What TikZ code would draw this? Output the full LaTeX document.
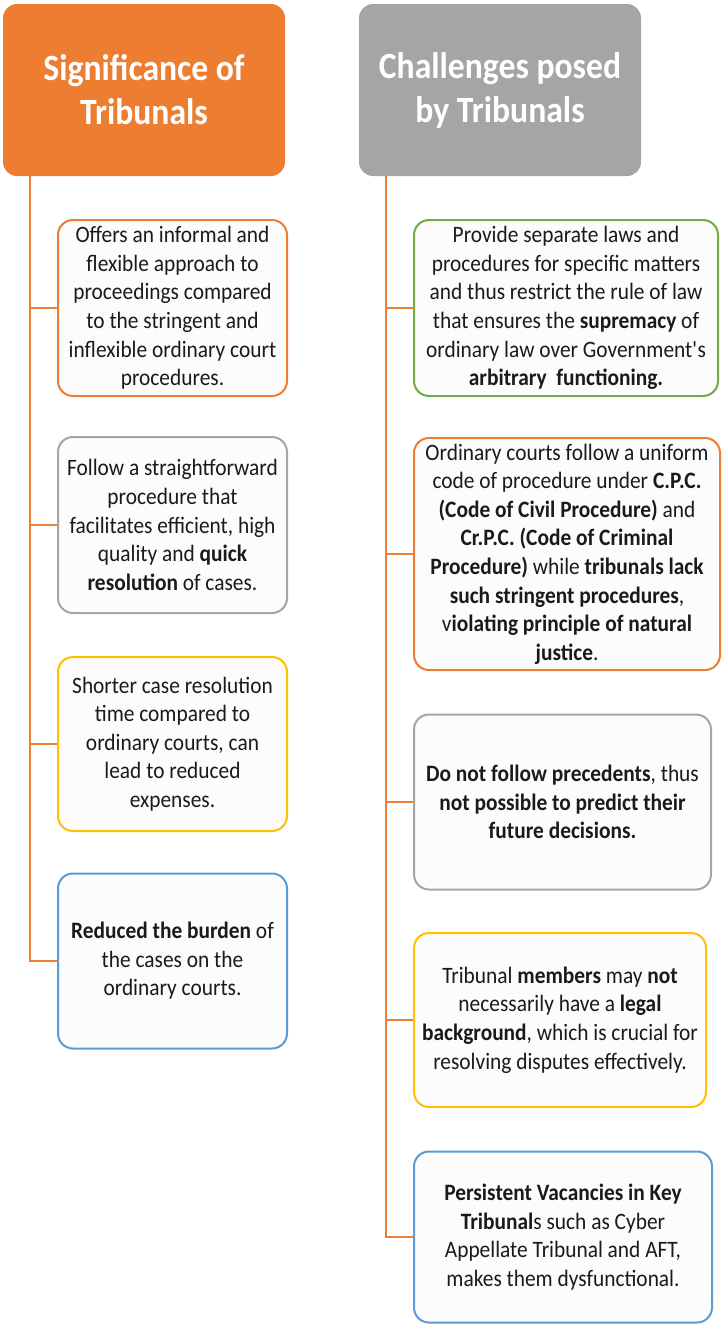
\documentclass[tikz,border=0pt]{standalone}
\usepackage{fontspec}
\setmainfont{Carlito}[FakeStretch=0.91]
\definecolor{corange}{HTML}{ED7D31}
\definecolor{cgray}{HTML}{A5A5A5}
\definecolor{cyellow}{HTML}{FFC000}
\definecolor{cblue}{HTML}{5B9BD5}
\definecolor{cgreen}{HTML}{70AD47}
\definecolor{ctext}{HTML}{1A1A1A}
\tikzset{
  header/.style={rounded corners=14pt, minimum width=282pt, minimum height=172pt,
    text=white, align=center, inner sep=0pt,
    font=\fontsize{37}{44}\selectfont\bfseries},
  card/.style={draw=#1, line width=2pt, fill=white!99!black, rounded corners=15pt,
    align=center, inner sep=0pt, text=ctext,
    font=\fontsize{23.5}{28.6}\selectfont},
  link/.style={draw=corange, line width=2pt},
}
\begin{document}
\begin{tikzpicture}[x=1pt,y=-1pt]
\useasboundingbox (0,0) rectangle (728,1325);
\fill[white] (0,0) rectangle (728,1325);
% headers
\node[header, fill=corange] (h1) at (144,90) {Significance of\\Tribunals};
\node[header, fill=cgray] (h2) at (500,90) {Challenges posed\\by Tribunals};
% left cards
\node[card=corange, minimum width=229pt, minimum height=176pt] (L1) at (172.5,308)
 {Offers an informal and\\ flexible approach to\\ proceedings compared\\ to the stringent and\\ inflexible ordinary court\\ procedures.};
\node[card=cgray, minimum width=229pt, minimum height=176pt] (L2) at (172.5,525)
 {Follow a straightforward\\ procedure that\\ facilitates efficient, high\\ quality and \textbf{quick}\\ \textbf{resolution} of cases.};
\node[card=cyellow, minimum width=229pt, minimum height=174pt] (L3) at (172.5,744)
 {Shorter case resolution\\ time compared to\\ ordinary courts, can\\ lead to reduced\\ expenses.};
\node[card=cblue, minimum width=229pt, minimum height=175pt] (L4) at (172.5,961)
 {\textbf{Reduced the burden} of\\ the cases on the\\ ordinary courts.};
% right cards
\node[card=cgreen, minimum width=304pt, minimum height=176pt] (R1) at (566,308)
 {Provide separate laws and\\ procedures for specific matters\\ and thus restrict the rule of law\\ that ensures the \textbf{supremacy} of\\ ordinary law over Government\textquotesingle s\\ \textbf{arbitrary\ \ functioning.}};
\node[card=corange, minimum width=306pt, minimum height=232pt] (R2) at (567,554)
 {Ordinary courts follow a uniform\\ code of procedure under \textbf{C.P.C.}\\ \textbf{(Code of Civil Procedure)} and\\ \textbf{Cr.P.C. (Code of Criminal}\\ \textbf{Procedure)} while \textbf{tribunals lack}\\ \textbf{such stringent procedures},\\ v\textbf{iolating principle of natural}\\ \textbf{justice}.};
\node[card=cgray, minimum width=297pt, minimum height=175pt] (R3) at (562.5,802)
 {\textbf{Do not follow precedents}, thus\\ \textbf{not possible to predict their}\\ \textbf{future decisions.}};
\node[card=cyellow, minimum width=292pt, minimum height=174pt] (R4) at (560,1020)
 {Tribunal \textbf{members} may \textbf{not}\\ necessarily have a \textbf{legal}\\ \textbf{background}, which is crucial for\\ resolving disputes effectively.};
\node[card=cblue, minimum width=298pt, minimum height=171pt] (R5) at (563,1237)
 {\textbf{Persistent Vacancies in Key}\\ \textbf{Tribunal}s such as Cyber\\ Appellate Tribunal and AFT,\\ makes them dysfunctional.};
% trunks
\coordinate (lt) at ([xshift=27pt]h1.south west);
\coordinate (rt) at ([xshift=27pt]h2.south west);
\draw[link] (lt) |- (L4.west);
\foreach \n in {L1,L2,L3} \draw[link] (lt |- \n.west) -- (\n.west);
\draw[link] (rt) |- (R5.west);
\foreach \n in {R1,R2,R3,R4} \draw[link] (rt |- \n.west) -- (\n.west);
\end{tikzpicture}
\end{document}
